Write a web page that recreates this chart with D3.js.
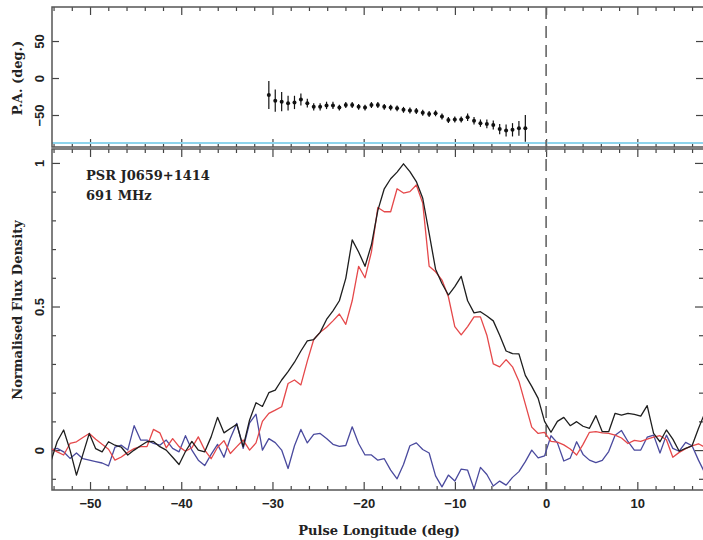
<html>
<head>
  <script src="https://d3js.org/d3.v7.min.js"></script>
  <style type="text/css">
    body { margin: 0; background: #fff; }
    svg { font-family: "DejaVu Sans", sans-serif; }
    .tick text { font-weight: bold; font-size: 13px; fill: #222; }
    .title { font-family: "DejaVu Serif", serif; font-weight: bold; font-size: 13px; fill: #222; }
    .frame { fill: none; stroke: #555; stroke-width: 1.5; }
    .tick line { stroke: #444; stroke-width: 1.2; }
    .prof { fill: none; stroke-width: 1.3; stroke-linejoin: round; }
  </style>
</head>
<body>
<div id="chart"></div>
<script type="text/javascript">
  // profile bins (deg): first bin longitude and bin width
  var binStart = -54.3;
  var binWidth = 0.703;

  // total intensity (black)
  var totalI = [-0.04,0.03,0.07,0.0,-0.087,-0.015,0.058,0.005,-0.006,0.029,
    0.017,0.01,-0.017,0.0,0.015,0.029,0.03,0.012,0.0,-0.025,
    -0.05,-0.005,0.03,0.0,-0.006,0.046,0.114,0.06,0.075,0.09,
    0.012,0.105,0.165,0.152,0.2,0.209,0.244,0.273,0.306,0.345,
    0.38,0.385,0.41,0.455,0.485,0.52,0.598,0.732,0.69,0.64,
    0.715,0.835,0.91,0.945,0.968,0.997,0.97,0.935,0.877,0.755,
    0.63,0.58,0.54,0.569,0.605,0.52,0.478,0.482,0.467,0.45,
    0.40,0.345,0.336,0.335,0.26,0.222,0.18,0.10,0.062,0.10,
    0.114,0.085,0.099,0.083,0.076,0.12,0.064,0.064,0.128,0.122,
    0.128,0.124,0.118,0.155,0.058,0.029,0.07,0.038,-0.004,0.006,
    0.015,0.075,0.13];

  // linear polarisation (red)
  var linearI = [0.006,-0.006,-0.017,0.023,0.029,0.044,0.058,0.038,0.02,0.003,
    -0.035,-0.024,-0.008,0.005,0.012,0.012,0.072,0.06,0.008,0.04,
    0.012,-0.004,0.008,0.046,0.0,-0.03,0.01,0.033,-0.012,0.012,
    0.035,0.0,0.025,0.1,0.128,0.139,0.151,0.232,0.244,0.227,
    0.31,0.385,0.41,0.428,0.45,0.474,0.438,0.52,0.64,0.60,
    0.69,0.845,0.83,0.83,0.91,0.895,0.90,0.923,0.86,0.64,
    0.621,0.592,0.534,0.43,0.401,0.43,0.464,0.464,0.40,0.30,
    0.29,0.315,0.29,0.24,0.16,0.08,0.058,0.062,0.03,0.028,
    0.018,0.004,-0.017,0.02,0.062,0.064,0.06,0.058,0.052,0.042,
    0.023,0.034,0.03,0.038,0.045,0.05,0.036,-0.025,-0.008,0.005,
    0.015,0.022,0.01];

  // circular polarisation (blue)
  var circularV = [0.0,0.006,-0.006,-0.029,-0.01,-0.03,-0.035,-0.04,-0.045,-0.055,
    0.01,0.017,0.0,0.085,0.035,0.035,0.023,0.017,0.035,0.006,
    -0.006,0.05,0.0,-0.035,-0.054,-0.015,0.02,-0.025,0.041,0.093,
    0.006,0.095,0.125,0.0,0.04,0.026,0.0,-0.064,0.015,0.072,
    0.025,0.055,0.058,0.04,0.02,0.013,0.016,0.081,0.023,-0.017,
    -0.017,-0.035,-0.03,-0.07,-0.1,-0.05,0.015,0.025,0.002,-0.01,
    -0.09,-0.128,-0.087,-0.108,-0.066,-0.07,-0.135,-0.06,-0.085,-0.125,
    -0.108,-0.122,-0.095,-0.075,-0.04,0.0,-0.027,-0.02,0.05,0.025,
    -0.038,-0.028,0.029,-0.015,-0.035,-0.044,-0.036,-0.005,0.052,0.068,
    0.03,0.0,0.0,0.045,0.052,-0.01,0.052,0.006,-0.004,0.027,
    0.015,-0.035,-0.08];

  // position angle, starting at bin 34
  var paFirstBin = 34;
  var paDeg = [-23,-30.6,-32,-34,-33,-29,-34,-39,-39,-37,
    -37,-40,-36.5,-36.5,-39,-40,-36.5,-36.5,-39,-40,
    -41,-43,-44,-44.5,-47,-48.6,-47.7,-52,-56.8,-56,
    -56,-53,-57.7,-61,-62,-63.5,-69,-71,-70,-68,
    -68];
  var paErr = [19,15,13,10,9,8,6,5,5,5,
    5,4,4,4,4,4,4,4,4,4,
    4,4,4,4,4,4,4,4,4,4,
    4,5,5,5,6,6,7,8,9,10,
    18];
  var paRefLine = -88;

  var xMajor = [-50, -40, -30, -20, -10, 0, 10];
  var paTicks = [-50, 0, 50];
  var fluxMajor = [0, 0.5, 1];
  var fluxLabels = ["0", "0.5", "1"];

  var W = 703, H = 540;
  var left = 52, right = 703;
  var topA = 7, botA = 147, topB = 149, botB = 490;

  var x = d3.scaleLinear().domain([-54.17, 17.2]).range([left, right]);
  var yPA = d3.scaleLinear().domain([-94.6, 96]).range([botA + 1, topA]);
  var yF = d3.scaleLinear().domain([-0.139, 1.052]).range([botB, topB - 1]);

  var lon = function(i) { return binStart + binWidth * i; };

  var svg = d3.select("#chart").append("svg")
    .attr("width", W).attr("height", H);

  svg.append("defs").append("clipPath").attr("id", "clipB")
    .append("rect").attr("x", left).attr("y", topB).attr("width", right - left).attr("height", botB - topB);

  var xMinor = d3.range(-54, 18, 2).filter(function(v) { return v % 10 != 0; });
  var fluxMinor = d3.range(-0.1, 1.05, 0.1).map(function(v) { return +v.toFixed(1); })
    .filter(function(v) { return fluxMajor.indexOf(v) < 0; });

  function ticks(axisFn, scale, vals, size, transform) {
    var g = svg.append("g").attr("transform", transform)
      .call(axisFn(scale).tickValues(vals).tickSize(-size).tickSizeOuter(0).tickFormat(""));
    g.select(".domain").remove();
    return g;
  }

  // x ticks on each panel edge
  [[topA, d3.axisTop], [botA, d3.axisBottom], [topB, d3.axisTop], [botB, d3.axisBottom]].forEach(function(e) {
    ticks(e[1], x, xMajor, 8, "translate(0," + e[0] + ")");
    ticks(e[1], x, xMinor, 4, "translate(0," + e[0] + ")");
  });
  // y ticks
  ticks(d3.axisLeft, yPA, paTicks, 7, "translate(" + left + ",0)");
  ticks(d3.axisRight, yPA, paTicks, 7, "translate(" + right + ",0)");
  ticks(d3.axisLeft, yF, fluxMajor, 8, "translate(" + left + ",0)");
  ticks(d3.axisLeft, yF, fluxMinor, 4, "translate(" + left + ",0)");
  ticks(d3.axisRight, yF, fluxMajor, 8, "translate(" + right + ",0)");
  ticks(d3.axisRight, yF, fluxMinor, 4, "translate(" + right + ",0)");

  // x tick labels
  var xl = svg.append("g").attr("transform", "translate(0," + botB + ")")
    .call(d3.axisBottom(x).tickValues(xMajor).tickSize(0).tickPadding(9)
      .tickFormat(function(d) { return d < 0 ? "\u2212" + Math.abs(d) : d; }));
  xl.select(".domain").remove();

  // y tick labels, rotated like the original
  function yLabels(scale, vals, fmt) {
    var g = svg.append("g").attr("transform", "translate(" + left + ",0)")
      .call(d3.axisLeft(scale).tickValues(vals).tickSize(0).tickFormat(fmt));
    g.select(".domain").remove();
    g.selectAll(".tick text")
      .attr("transform", "rotate(-90)")
      .attr("text-anchor", "middle")
      .attr("x", 0).attr("y", -8).attr("dy", 0);
  }
  yLabels(yPA, paTicks, function(d) { return d < 0 ? "\u2212" + Math.abs(d) : d; });
  yLabels(yF, fluxMajor, function(d, i) { return fluxLabels[i]; });

  // reference line in PA panel
  svg.append("line")
    .attr("x1", left).attr("x2", right)
    .attr("y1", yPA(paRefLine)).attr("y2", yPA(paRefLine))
    .attr("stroke", "#8ed4ec").attr("stroke-width", 2);

  // frames
  svg.append("rect").attr("class", "frame")
    .attr("x", left).attr("y", topA).attr("width", right + 2 - left).attr("height", botA - topA);
  svg.append("rect").attr("class", "frame")
    .attr("x", left).attr("y", topB).attr("width", right + 2 - left).attr("height", botB - topB);

  // zero longitude marker through both panels
  svg.append("line")
    .attr("x1", x(0)).attr("x2", x(0))
    .attr("y1", topA).attr("y2", botB)
    .attr("stroke", "#666").attr("stroke-width", 1.6)
    .attr("stroke-dasharray", "12,7");

  // profiles
  var line = d3.line()
    .x(function(d, i) { return x(lon(i)); })
    .y(function(d) { return yF(d); });

  var profiles = [
    { vals: circularV, color: "#4a4a9e" },
    { vals: linearI, color: "#e5484a" },
    { vals: totalI, color: "#1e1e1e" }
  ];
  svg.append("g").attr("clip-path", "url(#clipB)")
    .selectAll("path").data(profiles).enter()
    .append("path")
    .attr("class", "prof")
    .attr("d", function(d) { return line(d.vals); })
    .attr("stroke", function(d) { return d.color; });

  // position angle points with error bars
  var pa = svg.append("g");
  pa.selectAll("line").data(paDeg).enter().append("line")
    .attr("x1", function(d, i) { return x(lon(paFirstBin + i)); })
    .attr("x2", function(d, i) { return x(lon(paFirstBin + i)); })
    .attr("y1", function(d, i) { return yPA(d - paErr[i]); })
    .attr("y2", function(d, i) { return yPA(d + paErr[i]); })
    .attr("stroke", "#111").attr("stroke-width", 1.2);
  pa.selectAll("circle").data(paDeg).enter().append("circle")
    .attr("cx", function(d, i) { return x(lon(paFirstBin + i)); })
    .attr("cy", function(d) { return yPA(d); })
    .attr("r", 2).attr("fill", "#111");

  // texts
  svg.append("text").attr("class", "title")
    .attr("x", 86).attr("y", 180).text("PSR J0659+1414");
  svg.append("text").attr("class", "title")
    .attr("x", 86).attr("y", 200).text("691 MHz");

  svg.append("text").attr("class", "title")
    .attr("text-anchor", "middle")
    .attr("x", x(-18.3)).attr("y", 535)
    .text("Pulse Longitude (deg)");

  svg.append("text").attr("class", "title")
    .attr("text-anchor", "middle")
    .attr("transform", "translate(22," + yPA(0) + ") rotate(-90)")
    .text("P.A. (deg.)");

  svg.append("text").attr("class", "title")
    .attr("text-anchor", "middle")
    .attr("transform", "translate(22,310) rotate(-90)")
    .text("Normalised Flux Density");
</script>
</body>
</html>
